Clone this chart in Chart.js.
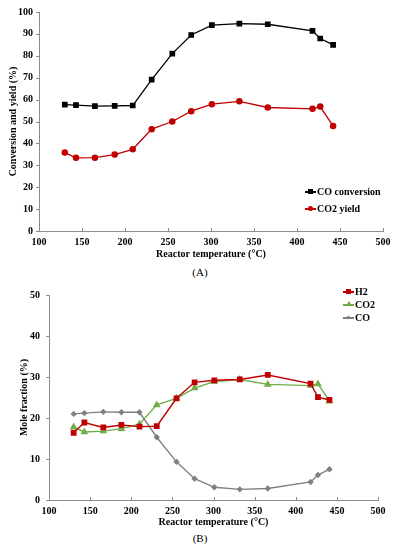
<!DOCTYPE html>
<html>
<head>
<meta charset="utf-8">
<script src="https://cdn.jsdelivr.net/npm/chart.js@4.4.1/dist/chart.umd.min.js"></script>
<style>
  html, body { margin: 0; padding: 0; background: #fff; }
  body { width: 397px; height: 550px; position: relative; overflow: hidden; font-family: "Liberation Serif", "DejaVu Serif", serif; }
  .box { position: absolute; left: 0; width: 397px; }
  .cap { position: absolute; font-size: 11px; color: #000; transform: translate(-50%, -50%); white-space: nowrap; }
  .leg { position: absolute; font-size: 10px; font-weight: bold; color: #000; white-space: nowrap; line-height: 12px; }
  .leg .item { position: relative; height: 12px; }
  .leg .ln { position: absolute; top: 5px; height: 2px; }
  .leg .mk { position: absolute; }
</style>
</head>
<body>
<div class="box" style="top:0;height:262px;"><canvas id="c1"></canvas></div>
<div class="box" style="top:280px;height:250px;"><canvas id="c2"></canvas></div>
<div class="cap" style="left:200px;top:272px;">(A)</div>
<div class="cap" style="left:200px;top:538px;">(B)</div>

<div class="leg" style="left:305px;top:186px;">
  <div class="item" style="margin-bottom:5px;"><span class="ln" style="left:0;width:11px;background:#000;"></span><span class="mk" style="left:3px;top:3px;width:5px;height:5px;background:#000;"></span><span style="margin-left:12px;">CO conversion</span></div>
  <div class="item"><span class="ln" style="left:0;width:11px;background:#c00000;"></span><span class="mk" style="left:3px;top:3px;width:5px;height:5px;border-radius:50%;background:#c00000;"></span><span style="margin-left:12px;">CO2 yield</span></div>
</div>

<div class="leg" style="left:343px;top:286px;">
  <div class="item" style="margin-bottom:1px;"><span class="ln" style="left:0;width:11px;background:#c00000;"></span><span class="mk" style="left:3px;top:3px;width:5px;height:5px;background:#c00000;"></span><span style="margin-left:12px;">H2</span></div>
  <div class="item" style="margin-bottom:1px;"><span class="ln" style="left:0;width:11px;background:#70ad47;"></span><span class="mk" style="left:3px;top:2px;width:0;height:0;border-left:3px solid transparent;border-right:3px solid transparent;border-bottom:5px solid #70ad47;"></span><span style="margin-left:12px;">CO2</span></div>
  <div class="item"><span class="ln" style="left:0;width:11px;background:#808080;"></span><span class="mk" style="left:4px;top:4px;width:3px;height:3px;background:#808080;transform:rotate(45deg);"></span><span style="margin-left:12px;">CO</span></div>
</div>

<script>
// ---- Data (A) ----
const tempsA = [130, 143, 165, 188, 209, 231, 255, 277, 301, 333, 366, 418, 427, 442];
const coConversion = [57.7, 57.5, 57.0, 57.1, 57.3, 69.1, 81.0, 89.5, 94.0, 94.7, 94.4, 91.4, 87.9, 85.0];
const co2Yield = [35.8, 33.4, 33.5, 34.9, 37.3, 46.5, 50.0, 54.7, 57.9, 59.2, 56.4, 55.8, 56.8, 47.9];
const yTicksA = [0, 10, 20, 30, 40, 50, 60, 70, 80, 90, 100];

// ---- Data (B) ----
const tempsB = [130, 143, 166, 188, 210, 231, 255, 277, 301, 332, 366, 418, 427, 441];
const h2Frac = [16.4, 18.9, 17.7, 18.3, 17.9, 18.0, 24.8, 28.7, 29.2, 29.4, 30.5, 28.4, 25.1, 24.4];
const co2Frac = [17.8, 16.6, 16.8, 17.4, 18.5, 23.2, 24.8, 27.3, 28.9, 29.4, 28.2, 27.9, 28.3, 24.1];
const coFrac = [21.0, 21.2, 21.5, 21.4, 21.4, 15.3, 9.3, 5.2, 3.1, 2.6, 2.8, 4.4, 6.1, 7.5];
const yTicksB = [0, 10, 20, 30, 40, 50];
const xTicks = [100, 150, 200, 250, 300, 350, 400, 450, 500];

const pts = (xs, ys) => xs.map((x, i) => ({ x: x, y: ys[i] }));
const FONT = "'Liberation Serif', 'DejaVu Serif', serif";
const AXIS = '#8c8c8c';

// draws small tick marks: y ticks outward (left), x ticks inward (up)
const tickMarks = {
  id: 'tickMarks',
  afterDraw(chart) {
    const ctx = chart.ctx, a = chart.chartArea;
    const xs = chart.scales.x, ys = chart.scales.y;
    ctx.save();
    ctx.strokeStyle = AXIS; ctx.lineWidth = 1;
    ctx.beginPath();
    xs.ticks.forEach(t => { const px = Math.round(xs.getPixelForValue(t.value)) + 0.5; ctx.moveTo(px, a.bottom); ctx.lineTo(px, a.bottom - 3); });
    ys.ticks.forEach(t => { const py = Math.round(ys.getPixelForValue(t.value)) + 0.5; ctx.moveTo(a.left, py); ctx.lineTo(a.left - 3, py); });
    ctx.stroke();
    ctx.restore();
  }
};

function makeScales(opts) {
  return {
    x: {
      type: 'linear', min: 100, max: 500,
      afterBuildTicks: s => { s.ticks = xTicks.map(v => ({ value: v })); },
      afterFit: s => { s.height = opts.xH; },
      grid: { display: false, drawTicks: false },
      border: { display: true, color: AXIS, width: 1 },
      ticks: { padding: 5, color: '#000', font: { family: FONT, size: 10, weight: 'bold' }, maxRotation: 0, autoSkip: false },
      title: { display: true, text: 'Reactor temperature (°C)', color: '#000', font: { family: FONT, size: 10, weight: 'bold' }, padding: { top: 0, bottom: 2 } }
    },
    y: {
      type: 'linear', min: 0, max: opts.yMax,
      afterBuildTicks: s => { s.ticks = opts.yTicks.map(v => ({ value: v })); },
      afterFit: s => { s.width = opts.yW; },
      grid: { display: false, drawTicks: false },
      border: { display: true, color: AXIS, width: 1 },
      ticks: { padding: opts.yPad, color: '#000', font: { family: FONT, size: 10, weight: 'bold' } },
      title: { display: true, text: opts.yTitle, color: '#000', font: { family: FONT, size: 10, weight: 'bold' }, padding: { top: opts.yTitlePad, bottom: 0 } }
    }
  };
}

new Chart(document.getElementById('c1'), {
  type: 'line',
  data: {
    datasets: [
      { label: 'CO conversion', data: pts(tempsA, coConversion), borderColor: '#000', backgroundColor: '#000', borderWidth: 1.3, pointStyle: 'rect', pointRadius: 3.1, pointHoverRadius: 3.1, tension: 0 },
      { label: 'CO2 yield', data: pts(tempsA, co2Yield), borderColor: '#c00000', backgroundColor: '#c00000', borderWidth: 1.3, pointStyle: 'circle', pointRadius: 2.6, pointHoverRadius: 2.6, tension: 0 }
    ]
  },
  options: {
    responsive: true, maintainAspectRatio: false, animation: false,
    layout: { padding: { top: 11, right: 14, bottom: 0, left: 0 } },
    plugins: { legend: { display: false }, tooltip: { enabled: false } },
    scales: makeScales({ xH: 31, yW: 39, yMax: 100, yTicks: yTicksA, yPad: 6, yTitle: 'Conversion and yield (%)', yTitlePad: 7 })
  },
  plugins: [tickMarks]
});

new Chart(document.getElementById('c2'), {
  type: 'line',
  data: {
    datasets: [
      { label: 'H2', data: pts(tempsB, h2Frac), borderColor: '#c00000', backgroundColor: '#c00000', borderWidth: 1.4, pointStyle: 'rect', pointRadius: 3.1, pointHoverRadius: 3.1, tension: 0 },
      { label: 'CO2', data: pts(tempsB, co2Frac), borderColor: '#70ad47', backgroundColor: '#70ad47', borderWidth: 1.4, pointStyle: 'triangle', pointRadius: 3.1, pointHoverRadius: 3.1, tension: 0 },
      { label: 'CO', data: pts(tempsB, coFrac), borderColor: '#808080', backgroundColor: '#808080', borderWidth: 1.4, pointStyle: 'rectRot', pointRadius: 2.2, pointHoverRadius: 2.2, tension: 0 }
    ]
  },
  options: {
    responsive: true, maintainAspectRatio: false, animation: false,
    layout: { padding: { top: 6, right: 19, bottom: 0, left: 0 } },
    plugins: { legend: { display: false }, tooltip: { enabled: false } },
    scales: makeScales({ xH: 30, yW: 49, yMax: 50, yTicks: yTicksB, yPad: 9, yTitle: 'Mole fraction (%)', yTitlePad: 18 })
  },
  plugins: [tickMarks]
});
</script>
</body>
</html>
